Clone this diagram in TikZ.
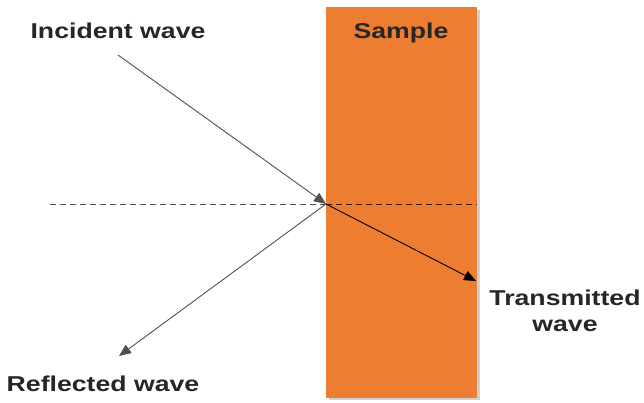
\documentclass[tikz,border=0pt]{standalone}
\usepackage{fontspec}
\setmainfont{Liberation Sans}
\usetikzlibrary{arrows.meta}
\definecolor{sampleorange}{HTML}{ED7D31}
\definecolor{raygray}{HTML}{505050}
\tikzset{
  lbl/.style={font=\bfseries\fontsize{21.5}{26}\selectfont, text=black!85, inner sep=0pt, align=center, xscale=1.24},
  ray/.style={line width=0.9pt, -{Triangle[length=12pt,width=10pt]}},
}
\begin{document}
\begin{tikzpicture}[x=1pt,y=-1pt]
\useasboundingbox (0,0) rectangle (644,402);
% sample
\fill[black!18] (329,10) rectangle (480,400);
\node[fill=sampleorange, minimum width=151pt, minimum height=391pt, inner sep=0pt, anchor=north west] (sample) at (326,7) {};
% coordinates
\coordinate (hit) at (326,204);
\coordinate (inStart) at (118,55);
\coordinate (dashL) at (50,204);
\coordinate (dashR) at (477,204);
\coordinate (transEnd) at (476,281);
\coordinate (reflEnd) at (119,356);
% dashed normal
\draw[dash pattern=on 6pt off 4pt, line width=0.9pt, raygray] (dashL) -- (hit);
\draw[dash pattern=on 6pt off 4pt, line width=0.9pt, black!80!sampleorange] (hit) -- (dashR);
% rays
\draw[ray, raygray] (inStart) -- (hit);
\draw[ray, raygray] (hit) -- (reflEnd);
\draw[ray, black] (hit) -- (transEnd);
% labels
\node[lbl] (incident) at (118,31) {Incident wave};
\node[lbl] (samplelbl) at (401,33) {Sample};
\node[lbl] (transmitted) at (565,311) {Transmitted\\wave};
\node[lbl] (reflected) at (103,384) {Reflected wave};
\end{tikzpicture}
\end{document}
